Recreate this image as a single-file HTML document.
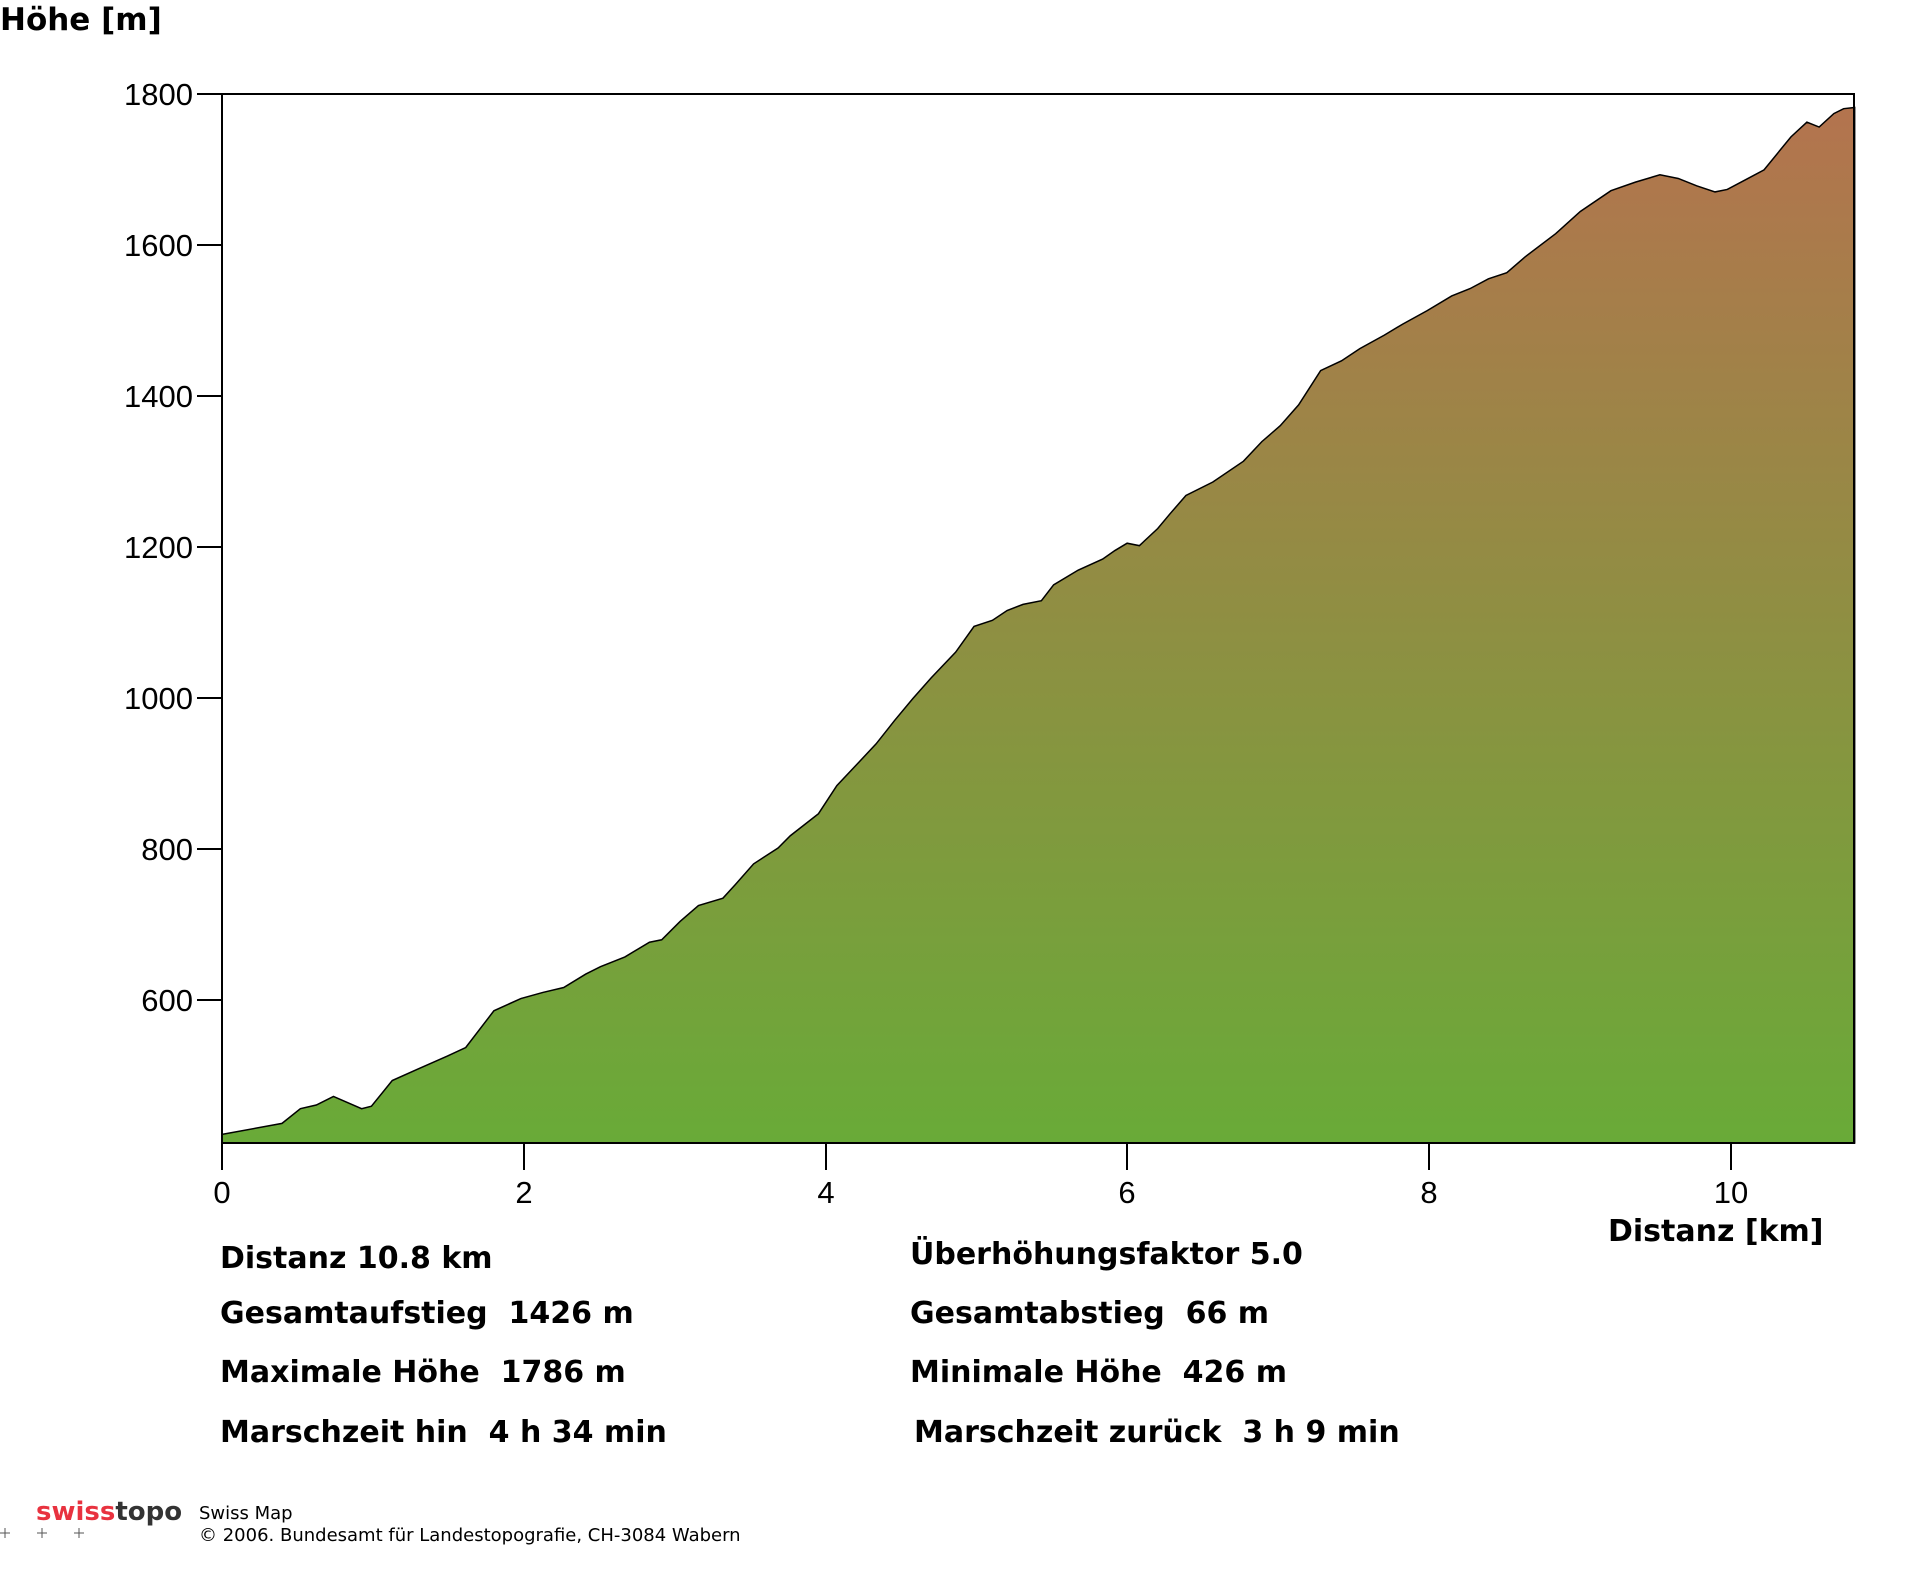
<!DOCTYPE html>
<html><head><meta charset="utf-8"><style>
html,body{margin:0;padding:0;background:#fff;width:1920px;height:1572px;overflow:hidden}
svg{display:block}
.b{font-family:"DejaVu Sans","Liberation Sans",sans-serif;font-weight:bold;fill:#000}
.t{font-family:"Liberation Sans",sans-serif;font-size:31px;fill:#000}
</style></head><body>
<svg width="1920" height="1572" xmlns="http://www.w3.org/2000/svg">
<defs><linearGradient id="g" x1="0" y1="1143" x2="0" y2="94" gradientUnits="userSpaceOnUse">
<stop offset="0" stop-color="#56b833"/><stop offset="0.5" stop-color="#85963f"/><stop offset="1" stop-color="#b3744e"/></linearGradient></defs>
<text class="b" x="0" y="30" font-size="31">Höhe [m]</text>
<g transform="translate(222,94) scale(1.2248,1.224) translate(-181,-76)">
<path fill="url(#g)" stroke="#000" stroke-width="1.5" vector-effect="non-scaling-stroke" d="M181,933 L181,926 L230,917 L245,905 L258,902 L272,895 L295,905 L303,903 L320,882 L340,873 L365,862 L380,855 L403,825 L425,815 L443,810 L460,806 L478,795 L490,789 L510,781 L530,769 L540,767 L555,752 L570,739 L590,733 L600,722 L615,705 L635,692 L645,682 L668,664 L683,641 L700,623 L715,607 L730,588 L745,570 L760,553 L780,532 L795,511 L810,506 L822,498 L835,493 L850,490 L860,477 L880,465 L900,456 L910,449 L920,443 L930,445 L945,431 L955,419 L968,404 L990,393 L1015,376 L1030,360 L1045,347 L1060,330 L1078,302 L1095,294 L1110,284 L1130,273 L1145,264 L1165,253 L1185,241 L1200,235 L1215,227 L1230,222 L1245,209 L1270,190 L1290,172 L1315,155 L1335,148 L1355,142 L1370,145 L1385,151 L1400,156 L1410,154 L1425,146 L1440,138 L1462,111 L1475,99 L1485,103 L1497,92 L1505,88 L1514,87 L1514,933 Z"/>
</g>
<rect x="222" y="94" width="1632" height="1049" fill="none" stroke="#000" stroke-width="2"/>
<g stroke="#000" stroke-width="2">
<line x1="197" y1="94" x2="222" y2="94"/><line x1="197" y1="245" x2="222" y2="245"/><line x1="197" y1="396" x2="222" y2="396"/><line x1="197" y1="547" x2="222" y2="547"/><line x1="197" y1="698" x2="222" y2="698"/><line x1="197" y1="849" x2="222" y2="849"/><line x1="197" y1="1000" x2="222" y2="1000"/>
<line x1="222" y1="1143" x2="222" y2="1170"/><line x1="524" y1="1143" x2="524" y2="1170"/><line x1="826" y1="1143" x2="826" y2="1170"/><line x1="1127" y1="1143" x2="1127" y2="1170"/><line x1="1429" y1="1143" x2="1429" y2="1170"/><line x1="1731" y1="1143" x2="1731" y2="1170"/>
</g>
<g class="t" text-anchor="end">
<text x="193" y="105">1800</text><text x="193" y="256">1600</text><text x="193" y="407">1400</text><text x="193" y="558">1200</text><text x="193" y="709">1000</text><text x="193" y="860">800</text><text x="193" y="1011">600</text>
</g>
<g class="t" text-anchor="middle">
<text x="222" y="1203">0</text><text x="524" y="1203">2</text><text x="826" y="1203">4</text><text x="1127" y="1203">6</text><text x="1429" y="1203">8</text><text x="1731" y="1203">10</text>
</g>
<text class="b" x="1608" y="1241" font-size="30">Distanz [km]</text>
<g class="b" font-size="30">
<text x="220" y="1268">Distanz 10.8 km</text>
<text x="220" y="1323">Gesamtaufstieg&#160; 1426 m</text>
<text x="220" y="1382">Maximale Höhe&#160; 1786 m</text>
<text x="220" y="1442">Marschzeit hin&#160; 4 h 34 min</text>
<text x="910" y="1264">Überhöhungsfaktor 5.0</text>
<text x="910" y="1323">Gesamtabstieg&#160; 66 m</text>
<text x="910" y="1382">Minimale Höhe&#160; 426 m</text>
<text x="914" y="1442">Marschzeit zurück&#160; 3 h 9 min</text>
</g>
<text x="36" y="1520" font-family="DejaVu Sans,sans-serif" font-weight="bold" font-size="26"><tspan fill="#e8323f">swiss</tspan><tspan fill="#333">topo</tspan></text>
<g stroke="#555" stroke-width="1"><line x1="0" y1="1533" x2="10" y2="1533"/><line x1="5" y1="1528" x2="5" y2="1538"/><line x1="37" y1="1533" x2="47" y2="1533"/><line x1="42" y1="1528" x2="42" y2="1538"/><line x1="74" y1="1533" x2="84" y2="1533"/><line x1="79" y1="1528" x2="79" y2="1538"/></g>
<text x="199" y="1519" font-family="DejaVu Sans,sans-serif" font-size="18">Swiss Map</text>
<text x="199" y="1541" font-family="DejaVu Sans,sans-serif" font-size="18">© 2006. Bundesamt für Landestopografie, CH-3084 Wabern</text>
</svg>
</body></html>
